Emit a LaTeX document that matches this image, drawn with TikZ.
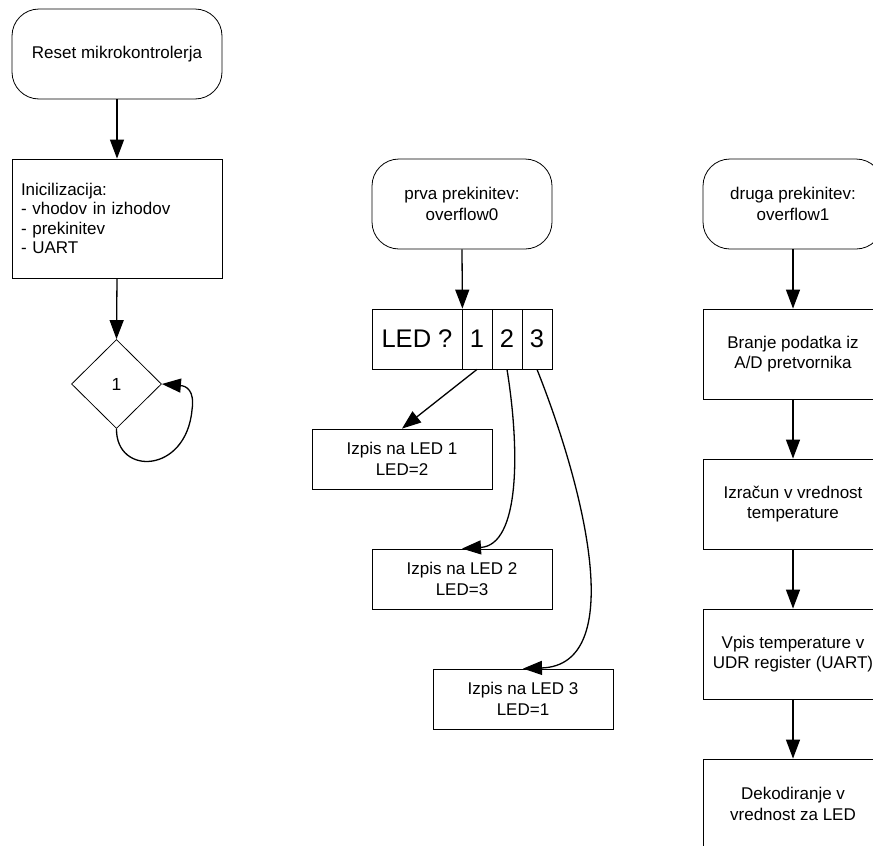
\documentclass[tikz,border=0pt]{standalone}
\usepackage{fontspec}
\setmainfont{Liberation Sans}
\usetikzlibrary{arrows.meta,shapes.geometric}
\tikzset{
  base/.style={draw=black, line width=0.8pt, align=center, inner sep=2pt,
    font=\fontsize{17}{20.5}\selectfont},
  term/.style={base, rounded corners=27pt, minimum width=210pt, minimum height=90pt},
  iterm/.style={base, rounded corners=27pt, minimum width=180pt, minimum height=90pt},
  proc/.style={base, minimum width=180pt, minimum height=90pt},
  outbox/.style={base, minimum width=180pt, minimum height=60pt},
  cellbox/.style={base, minimum height=60pt, font=\fontsize{25.5}{28}\selectfont},
  conn/.style={line width=1.3pt, -{Triangle[length=19pt,width=14pt]}},
}
\begin{document}
\begin{tikzpicture}[x=1pt,y=-1pt]
\path[use as bounding box] (0,0) rectangle (873,846);
\clip (0,0) rectangle (873,846);

% left column
\node[term] (reset) at (117,54) {Reset mikrokontrolerja};
\node[base, minimum height=119pt, text width=192pt, inner sep=9pt, align=left,
  font=\fontsize{17}{19.5}\selectfont] (init) at (117,218.5)
  {Inicilizacija:\\- vhodov in izhodov\\- prekinitev\\- UART};
\node[base, diamond, minimum width=90pt, minimum height=89pt, inner sep=0pt,
  font=\fontsize{17.5}{20}\selectfont] (dia) at (116.5,384) {1};
\draw[conn] (reset.south) -- (init.north);
\draw[conn] (init.south) -- (dia.north);
\coordinate (lp) at (192,410);
\draw[conn] (dia.south) .. controls (116,476) and (186,474) .. (lp)
  .. controls (195,390) and (186,386) .. (dia.east);

% middle column
\node[iterm] (prva) at (462,204) {prva prekinitev:\\overflow0};
\node[cellbox, minimum width=90pt] (ledq) at (417,339) {LED ?};
\node[cellbox, minimum width=30pt, inner sep=0pt] (c1) at (477,339) {1};
\node[cellbox, minimum width=30pt, inner sep=0pt] (c2) at (507,339) {2};
\node[cellbox, minimum width=30pt, inner sep=0pt] (c3) at (537,339) {3};
\node[outbox] (led1) at (402,459) {Izpis na LED 1\\LED=2};
\node[outbox] (led2) at (462,579) {Izpis na LED 2\\LED=3};
\node[outbox] (led3) at (523,699) {Izpis na LED 3\\LED=1};
\draw[conn] (prva.south) -- (ledq.north east);
\draw[conn] (c1.south) -- (led1.north);
\draw[conn] (c2.south) .. controls (520,450) and (520,545) .. (led2.north);
\draw[conn] (c3.south) .. controls (585,490) and (628,665) .. (led3.north);

% right column
\node[iterm] (druga) at (793,204) {druga prekinitev:\\overflow1};
\node[proc] (branje) at (793,354) {Branje podatka iz\\A/D pretvornika};
\node[proc] (izracun) at (793,504) {Izračun v vrednost\\temperature};
\node[proc] (vpis) at (793,654) {Vpis temperature v\\UDR register (UART)};
\node[proc] (dekod) at (793,804) {Dekodiranje v\\vrednost za LED};
\draw[conn] (druga.south) -- (branje.north);
\draw[conn] (branje.south) -- (izracun.north);
\draw[conn] (izracun.south) -- (vpis.north);
\draw[conn] (vpis.south) -- (dekod.north);
\end{tikzpicture}
\end{document}
